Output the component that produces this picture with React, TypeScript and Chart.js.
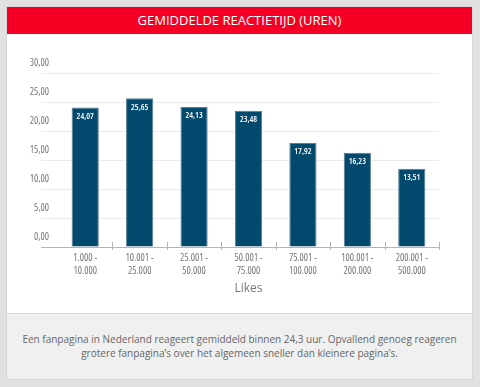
import React, { useEffect, useRef } from 'react';
import { Chart, registerables } from 'chart.js';

Chart.register(...registerables);

const titleText = 'GEMIDDELDE REACTIETIJD (UREN)';
const categories: string[][] = [
  ['1.000 -', '10.000'],
  ['10.001 -', '25.000'],
  ['25.001 -', '50.000'],
  ['50.001 -', '75.000'],
  ['75.001 -', '100.000'],
  ['100.001 -', '200.000'],
  ['200.001 -', '500.000'],
];
const values: number[] = [24.07, 25.65, 24.13, 23.48, 17.92, 16.23, 13.51];
const yMin = 0;
const yMax = 30;
const yStep = 5;
const xTitle = 'Likes';
const footerLines: string[] = [
  'Een fanpagina in Nederland reageert gemiddeld binnen 24,3 uur. Opvallend genoeg reageren',
  'grotere fanpagina’s over het algemeen sneller dan kleinere pagina’s.',
];

const SANS = '"Open Sans", "Noto Sans", sans-serif';
const fmt = (v: number) => v.toFixed(2).replace('.', ',');

const valueLabels = {
  id: 'valueLabels',
  afterDatasetsDraw(chart: any) {
    const ctx = chart.ctx;
    const meta = chart.getDatasetMeta(0);
    ctx.save();
    ctx.fillStyle = '#ffffff';
    ctx.font = '600 8.5px ' + SANS;
    try {
      (ctx as any).fontStretch = 'condensed';
    } catch (e) {}
    ctx.textAlign = 'center';
    ctx.textBaseline = 'middle';
    meta.data.forEach((bar: any, i: number) => {
      ctx.fillText(fmt(values[i]), bar.x, bar.y + 9);
    });
    ctx.restore();
  },
};

const xTickMarks = {
  id: 'xTickMarks',
  afterDraw(chart: any) {
    const ctx = chart.ctx;
    const xs = chart.scales.x;
    const y0 = chart.scales.y.getPixelForValue(0);
    ctx.save();
    ctx.strokeStyle = '#b4b4b4';
    ctx.lineWidth = 1;
    const n = values.length;
    for (let i = 1; i <= n; i++) {
      const px = i < n ? (xs.getPixelForValue(i - 1) + xs.getPixelForValue(i)) / 2 : chart.chartArea.right;
      const x = Math.round(px) + 0.5;
      ctx.beginPath();
      ctx.moveTo(x, y0 - 5);
      ctx.lineTo(x, y0 + 3);
      ctx.stroke();
    }
    ctx.restore();
  },
};

function BarChart() {
  const ref = useRef<HTMLCanvasElement | null>(null);
  useEffect(() => {
    if (!ref.current) return;
    const chart = new Chart(ref.current, {
      type: 'bar',
      data: {
        labels: categories,
        datasets: [
          {
            data: values,
            backgroundColor: '#02496e',
            borderColor: '#5a7e98',
            borderWidth: 1,
            barPercentage: 0.5,
            categoryPercentage: 1,
          },
        ],
      },
      options: {
        responsive: false,
        animation: false,
        devicePixelRatio: 1,
        layout: { padding: { top: 39, right: 33, left: 0, bottom: 0 } },
        plugins: { legend: { display: false }, tooltip: { enabled: false }, title: { display: false } },
        scales: {
          x: {
            grid: { display: false, drawTicks: false },
            border: { display: false },
            ticks: {
              color: '#777777',
              font: { family: SANS, size: 10, lineHeight: 1.25, weight: 'semi-condensed' as any },
              padding: 5,
              maxRotation: 0,
              autoSkip: false,
            },
            title: {
              display: true,
              text: xTitle,
              color: '#777777',
              font: { family: SANS, size: 12 },
              padding: { top: 0, bottom: 17 },
            },
            afterFit: (s: any) => {
              s.height = 66;
            },
          },
          y: {
            min: yMin,
            max: yMax,
            grid: {
              color: (c: any) => (c.tick && c.tick.value === 0 ? '#b4b4b4' : '#ebebeb'),
              tickColor: (c: any) => (c.tick && c.tick.value === 0 ? '#b4b4b4' : '#ebebeb'),
              drawTicks: true,
              tickLength: 17,
            },
            border: { display: false },
            ticks: {
              stepSize: yStep,
              color: '#777777',
              font: { family: SANS, size: 10, weight: 'semi-condensed' as any },
              padding: -8,
              labelOffset: -10,
              callback: (v: any) => fmt(Number(v)),
            },
            afterFit: (s: any) => {
              s.width = 51;
            },
          },
        },
      },
      plugins: [valueLabels, xTickMarks],
    });
    return () => chart.destroy();
  }, []);
  return <canvas ref={ref} width={465} height={279} style={{ display: 'block', width: 465, height: 279 }} />;
}

export default function App() {
  return (
    <div
      style={{
        position: 'absolute',
        left: 0,
        top: 0,
        width: 480,
        height: 387,
        background: '#e1e1e1',
        fontFamily: SANS,
        overflow: 'hidden',
      }}
    >
      <div
        style={{
          position: 'absolute',
          left: 7,
          top: 7,
          width: 465,
          height: 372,
          background: '#ffffff',
          boxShadow: '0 0 0 1px #d6d6d6',
        }}
      >
        <div
          style={{
            position: 'absolute',
            left: 0,
            top: 0,
            width: 465,
            height: 27,
            background: '#f50024',
            color: '#ffffff',
            fontSize: 13,
            lineHeight: '27px',
            textAlign: 'center',
            whiteSpace: 'nowrap',
          }}
        >
          {titleText}
        </div>
        <div style={{ position: 'absolute', left: 0, top: 27 }}>
          <BarChart />
        </div>
        <div
          style={{
            position: 'absolute',
            left: 0,
            top: 306,
            width: 465,
            height: 66,
            background: '#f0f0f0',
            borderTop: '1px solid #dadada',
            boxSizing: 'border-box',
            color: '#666666',
            fontSize: 10,
            lineHeight: '13.5px',
            textAlign: 'center',
            paddingTop: 19,
          }}
        >
          {footerLines.map((l, i) => (
            <div key={i} style={{ whiteSpace: 'nowrap' }}>
              {l}
            </div>
          ))}
        </div>
      </div>
    </div>
  );
}
